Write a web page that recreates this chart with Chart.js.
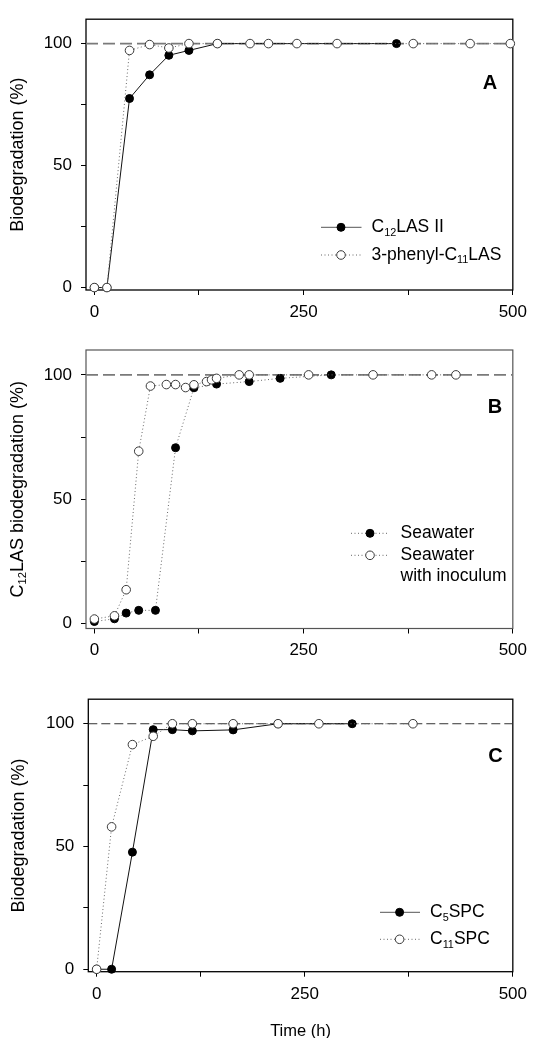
<!DOCTYPE html>
<html><head><meta charset="utf-8">
<script src="https://cdn.jsdelivr.net/npm/chart.js@4/dist/chart.umd.min.js"></script>
<style>
html,body{margin:0;padding:0;background:#fff;}
body{width:534px;height:1038px;position:relative;overflow:hidden;}
canvas{position:absolute;left:0;display:block;}
</style></head><body>
<canvas id="cA" width="534" height="330" style="top:0px"></canvas>
<canvas id="cB" width="534" height="350" style="top:330px"></canvas>
<canvas id="cC" width="534" height="358" style="top:680px"></canvas>
<script>
// ---------- data ----------
// Panel A
const aTimeC12 = [0, 15, 42, 66, 89, 113, 147, 361];
const aC12LAS  = [0, 0, 77.5, 87.2, 95.2, 97.2, 100, 100];
const aTimePhenyl = [0, 15, 42, 66, 89, 113, 147, 186, 208, 242, 290, 381, 449, 497];
const aPhenyl     = [0, 0, 97.2, 99.6, 98.2, 100, 100, 100, 100, 100, 100, 100, 100, 100];
// Panel B
const bTimeSea = [0, 24, 38, 53, 73, 97, 119, 146, 185, 222, 283];
const bSea     = [0.8, 1.9, 4.2, 5.3, 5.3, 70.7, 94.8, 96.3, 97.3, 98.6, 100];
const bTimeInoc = [0, 24, 38, 53, 67, 86, 97, 109, 119, 134, 140, 146, 173, 185, 256, 333, 403, 432];
const bInoc     = [1.8, 3.1, 13.6, 69.3, 95.5, 96.1, 96.1, 94.9, 96, 97.3, 98, 98.6, 100, 100, 100, 100, 100, 100];
// Panel C
const cTimeC5 = [0, 18, 43, 68, 91, 115, 164, 218, 307];
const cC5SPC  = [0, 0, 47.7, 97.6, 97.6, 97.1, 97.5, 100, 100];
const cTimeC11 = [0, 18, 43, 68, 91, 115, 164, 218, 267, 380];
const cC11SPC  = [0, 58, 91.5, 94.9, 100, 100, 100, 100, 100, 100];
// Axes
const xTicks = [0, 125, 250, 375, 500];
const xTickLabels = ['0', '', '250', '', '500'];
const yTicks = [0, 25, 50, 75, 100];
const yTickLabels = ['0', '', '50', '', '100'];
const xRange = [-10, 500];
const refLevel = 100;
// Labels
const labelsA = ['C_{12}LAS II', '3-phenyl-C_{11}LAS'];
const labelsB = ['Seawater', 'Seawater\nwith inoculum'];
const labelsC = ['C_{5}SPC', 'C_{11}SPC'];
const yTitles = ['Biodegradation (%)', 'C_{12}LAS biodegradation (%)', 'Biodegradation (%)'];
const panelLetters = ['A', 'B', 'C'];
const xTitle = 'Time (h)';

// ---------- helpers ----------
const F = '"Liberation Sans", Arial, Helvetica, sans-serif';
function pts(xs, ys) { return xs.map((x, i) => ({x: x, y: ys[i]})); }

function segments(text) {
  const segs = []; const re = /_\{([^}]*)\}/g; let last = 0, m;
  while ((m = re.exec(text))) {
    if (m.index > last) segs.push({t: text.slice(last, m.index), sub: false});
    segs.push({t: m[1], sub: true}); last = re.lastIndex;
  }
  if (last < text.length) segs.push({t: text.slice(last), sub: false});
  return segs;
}
function drawRich(ctx, text, x, y, size, align, weight) {
  const segs = segments(text); let total = 0;
  const fnt = s => (weight || '') + ' ' + s + 'px ' + F;
  for (const s of segs) { ctx.font = fnt(s.sub ? size * 0.62 : size); s.w = ctx.measureText(s.t).width; total += s.w; }
  let cx = align === 'center' ? x - total / 2 : x;
  ctx.textAlign = 'left'; ctx.textBaseline = 'middle';
  for (const s of segs) {
    ctx.font = fnt(s.sub ? size * 0.62 : size);
    ctx.fillText(s.t, cx, s.sub ? y + size * 0.3 : y);
    cx += s.w;
  }
}

function filledStyle(dash) {
  return {borderColor: '#111', borderWidth: 1, borderDash: dash, pointRadius: 4, pointBackgroundColor: '#000',
          pointBorderColor: '#000', pointBorderWidth: 1, tension: 0, clip: 10, order: 1};
}
function openStyle() {
  return {borderColor: '#666', borderWidth: 1, borderDash: [1, 2.5], pointRadius: 4.3, pointBackgroundColor: '#fff',
          pointBorderColor: '#3a3a3a', pointBorderWidth: 1, tension: 0, clip: 10, order: 0};
}
function refStyle(color, width, dash) {
  return {data: pts(xRange, [refLevel, refLevel]), borderColor: color, borderWidth: width, borderDash: dash,
          pointRadius: 0, tension: 0, order: 2, clip: 0};
}

function scales(yMin, yMax, yWidth, xHeight) {
  return {
    x: {type: 'linear', min: xRange[0], max: xRange[1],
        afterBuildTicks: s => { s.ticks = xTicks.map(v => ({value: v})); },
        afterFit: s => { s.height = xHeight; },
        grid: {display: true, drawOnChartArea: false, drawTicks: true, tickLength: 5, color: '#000', lineWidth: 1},
        border: {display: false},
        ticks: {padding: 7, color: '#000', font: {size: 17, family: F}, maxRotation: 0, autoSkip: false,
                callback: (v, i) => xTickLabels[i]}},
    y: {type: 'linear', min: yMin, max: yMax,
        afterBuildTicks: s => { s.ticks = yTicks.map(v => ({value: v})); },
        afterFit: s => { s.width = yWidth; },
        grid: {display: true, drawOnChartArea: false, drawTicks: true, tickLength: 5, color: '#000', lineWidth: 1},
        border: {display: false},
        ticks: {padding: 9, color: '#000', font: {size: 17, family: F}, autoSkip: false,
                callback: (v, i) => yTickLabels[i]}}
  };
}

const decor = {
  id: 'decor',
  beforeDatasetsDraw(chart, args, o) {
    const a = chart.chartArea, ctx = chart.ctx;
    ctx.save(); ctx.strokeStyle = o.frameColor; ctx.lineWidth = o.frameWidth;
    ctx.strokeRect(a.left, a.top, a.right - a.left, a.bottom - a.top); ctx.restore();
  },
  afterDraw(chart, args, o) {
    const a = chart.chartArea, ctx = chart.ctx;
    ctx.save(); ctx.fillStyle = '#000';
    ctx.save(); ctx.translate(o.yTitleX, (a.top + a.bottom) / 2); ctx.rotate(-Math.PI / 2);
    drawRich(ctx, o.yTitle, 0, 0, 18, 'center'); ctx.restore();
    drawRich(ctx, o.letter, o.letterPos[0], o.letterPos[1], 20, 'center', 'bold');
    o.legend.forEach(e => {
      const ds = chart.data.datasets[e.ds];
      ctx.save(); ctx.strokeStyle = e.lineColor || ds.borderColor; ctx.lineWidth = 1; ctx.setLineDash(ds.borderDash || []);
      ctx.beginPath(); ctx.moveTo(o.lx1, e.y); ctx.lineTo(o.lx2, e.y); ctx.stroke(); ctx.restore();
      ctx.save(); ctx.beginPath(); ctx.arc(o.mx, e.y, ds.pointRadius, 0, Math.PI * 2);
      ctx.fillStyle = ds.pointBackgroundColor; ctx.fill(); ctx.lineWidth = 1; ctx.strokeStyle = ds.pointBorderColor; ctx.stroke(); ctx.restore();
      ctx.fillStyle = '#000';
      ds.label.split('\n').forEach((ln, k) => drawRich(ctx, ln, o.tx, e.y + k * o.lineGap, 17.5, 'left'));
    });
    if (o.xTitle) drawRich(ctx, o.xTitle, (a.left + a.right) / 2, o.xTitleY, 16.5, 'center');
    ctx.restore();
  }
};

function make(id, datasets, yMin, yMax, yWidth, xHeight, pad, decorOpts) {
  return new Chart(document.getElementById(id), {
    type: 'line',
    data: {datasets: datasets},
    options: {responsive: false, animation: false, events: [],
      layout: {padding: pad, autoPadding: false},
      scales: scales(yMin, yMax, yWidth, xHeight),
      plugins: {legend: {display: false}, tooltip: {enabled: false}, decor: decorOpts}},
    plugins: [decor]
  });
}

// Panel A
make('cA', [
  Object.assign({label: labelsA[0], data: pts(aTimeC12, aC12LAS)}, filledStyle([])),
  Object.assign({label: labelsA[1], data: pts(aTimePhenyl, aPhenyl)}, openStyle()),
  refStyle('#7a7a7a', 1.6, [12, 5])
], -1, 110, 86, 40, {top: 13, right: 18, left: 0, bottom: 0}, {
  frameColor: '#000', frameWidth: 1.3, yTitle: yTitles[0], yTitleX: 18, letter: panelLetters[0], letterPos: [490, 83],
  lx1: 321, lx2: 361.5, mx: 341, tx: 371.5, lineGap: 21,
  legend: [{ds: 0, y: 227.3, lineColor: '#555'}, {ds: 1, y: 255}]
});

// Panel B
make('cB', [
  Object.assign({label: labelsB[0], data: pts(bTimeSea, bSea)}, filledStyle([1, 2.5]), {borderColor: '#666'}),
  Object.assign({label: labelsB[1], data: pts(bTimeInoc, bInoc)}, openStyle()),
  refStyle('#7a7a7a', 1.6, [12, 5])
], -2, 110, 86, 51.5, {top: 20, right: 18, left: 0, bottom: 0}, {
  frameColor: '#555', frameWidth: 1.2, yTitle: yTitles[1], yTitleX: 18, letter: panelLetters[1], letterPos: [495, 77],
  lx1: 351, lx2: 388.5, mx: 370, tx: 400.5, lineGap: 20.7,
  legend: [{ds: 0, y: 203.3}, {ds: 1, y: 225.3}]
});

// Panel C
make('cC', [
  Object.assign({label: labelsC[0], data: pts(cTimeC5, cC5SPC)}, filledStyle([])),
  Object.assign({label: labelsC[1], data: pts(cTimeC11, cC11SPC)}, openStyle()),
  refStyle('#333', 1, [9, 4])
], -1, 110, 88.3, 66.3, {top: 14, right: 15.5, left: 0, bottom: 0}, {
  frameColor: '#000', frameWidth: 1.3, yTitle: yTitles[2], yTitleX: 19, letter: panelLetters[2], letterPos: [495.5, 76],
  lx1: 380, lx2: 420, mx: 399.6, tx: 430, lineGap: 21,
  legend: [{ds: 0, y: 232.3, lineColor: '#555'}, {ds: 1, y: 259.3}],
  xTitle: xTitle, xTitleY: 351.7
});
</script>
</body></html>
